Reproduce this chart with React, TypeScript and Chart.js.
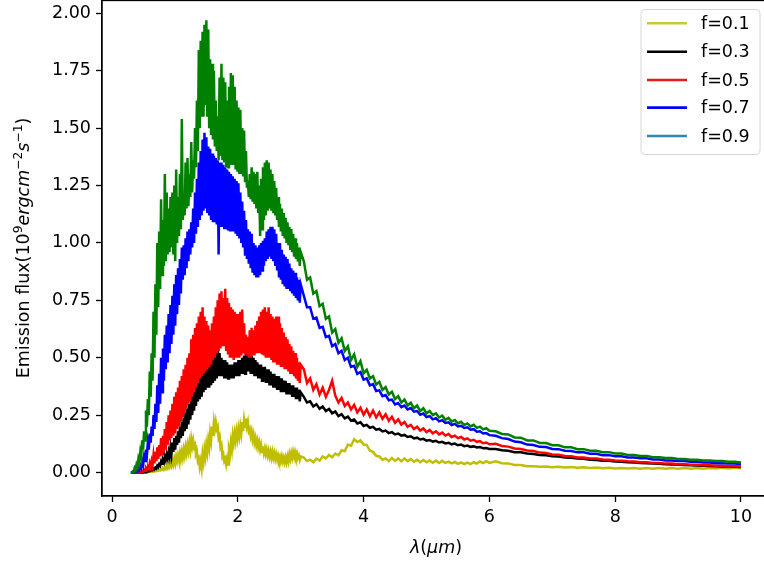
import React, { useEffect, useRef } from "react";
import { Chart, registerables } from "chart.js";

Chart.register(...registerables);

// Wavelength grid (µm)
const lambda = [
  0.300, 0.315, 0.330, 0.345, 0.360, 0.375, 0.390, 0.405, 0.420, 0.435,
  0.450, 0.465, 0.480, 0.495, 0.510, 0.525, 0.540, 0.555, 0.570, 0.585,
  0.600, 0.615, 0.630, 0.645, 0.660, 0.675, 0.690, 0.705, 0.720, 0.735,
  0.750, 0.765, 0.780, 0.795, 0.810, 0.825, 0.840, 0.855, 0.870, 0.885,
  0.900, 0.915, 0.930, 0.945, 0.960, 0.975, 0.990, 1.005, 1.020, 1.035,
  1.050, 1.065, 1.080, 1.095, 1.110, 1.125, 1.140, 1.155, 1.170, 1.185,
  1.200, 1.215, 1.230, 1.245, 1.260, 1.275, 1.290, 1.305, 1.320, 1.335,
  1.350, 1.365, 1.380, 1.395, 1.410, 1.425, 1.440, 1.455, 1.470, 1.485,
  1.500, 1.515, 1.530, 1.545, 1.560, 1.575, 1.590, 1.605, 1.620, 1.635,
  1.650, 1.665, 1.680, 1.695, 1.710, 1.725, 1.740, 1.755, 1.770, 1.785,
  1.800, 1.815, 1.830, 1.845, 1.860, 1.875, 1.890, 1.905, 1.920, 1.935,
  1.950, 1.965, 1.980, 1.995, 2.010, 2.025, 2.040, 2.055, 2.070, 2.085,
  2.100, 2.115, 2.130, 2.145, 2.160, 2.175, 2.190, 2.205, 2.220, 2.235,
  2.250, 2.265, 2.280, 2.295, 2.310, 2.325, 2.340, 2.355, 2.370, 2.385,
  2.400, 2.415, 2.430, 2.445, 2.460, 2.475, 2.490, 2.505, 2.520, 2.535,
  2.550, 2.565, 2.580, 2.595, 2.610, 2.625, 2.640, 2.655, 2.670, 2.685,
  2.700, 2.715, 2.730, 2.745, 2.760, 2.775, 2.790, 2.805, 2.820, 2.835,
  2.850, 2.865, 2.880, 2.895, 2.910, 2.925, 2.940, 2.955, 2.970, 2.985,
  3.000,
  3.05, 3.10, 3.15, 3.20, 3.25, 3.30, 3.35, 3.40, 3.45, 3.50,
  3.55, 3.60, 3.65, 3.70, 3.75, 3.80, 3.85, 3.90, 3.95, 4.00,
  4.05, 4.10, 4.15, 4.20, 4.25, 4.30, 4.35, 4.40, 4.45, 4.50,
  4.55, 4.60, 4.65, 4.70, 4.75, 4.80, 4.85, 4.90, 4.95, 5.00,
  5.05, 5.10, 5.15, 5.20, 5.25, 5.30, 5.35, 5.40, 5.45, 5.50,
  5.55, 5.60, 5.65, 5.70, 5.75, 5.80, 5.85, 5.90, 5.95, 6.00,
  6.1, 6.2, 6.3, 6.4, 6.5, 6.6, 6.7, 6.8, 6.9, 7.0,
  7.1, 7.2, 7.3, 7.4, 7.5, 7.6, 7.7, 7.8, 7.9, 8.0,
  8.1, 8.2, 8.3, 8.4, 8.5, 8.6, 8.7, 8.8, 8.9, 9.0,
  9.1, 9.2, 9.3, 9.4, 9.5, 9.6, 9.7, 9.8, 9.9, 10.0,
];

// Emission flux (1e9 erg cm^-2 s^-1)
const fluxF01 = [
  0, 0, 0, 0, 0, 0, 0, 0, 0, 0,
  0, 0, 0, 0, 0, 0, 0.002, 0.001, 0.003, 0.002,
  0.004, 0.003, 0.005, 0.004, 0.006, 0.005, 0.008, 0.006, 0.01, 0.008,
  0.012, 0.009, 0.015, 0.011, 0.018, 0.013, 0.022, 0.016, 0.028, 0.02,
  0.035, 0.025, 0.04, 0.028, 0.05, 0.035, 0.06, 0.04, 0.07, 0.05,
  0.075, 0.055, 0.085, 0.06, 0.09, 0.065, 0.10, 0.075, 0.11, 0.085,
  0.12, 0.095, 0.13, 0.10, 0.145, 0.115, 0.14, 0.11, 0.12, 0.08,
  0.09, 0.05, 0.06, 0.025, 0.05, 0.02, 0.08, 0.05, 0.10, 0.07,
  0.12, 0.09, 0.14, 0.11, 0.17, 0.14, 0.20, 0.16, 0.22, 0.19,
  0.22, 0.19, 0.20, 0.15, 0.16, 0.11, 0.12, 0.07, 0.08, 0.05,
  0.06, 0.035, 0.06, 0.035, 0.10, 0.08, 0.13, 0.10, 0.16, 0.13,
  0.17, 0.14, 0.18, 0.15, 0.19, 0.16, 0.20, 0.17, 0.22, 0.18,
  0.23, 0.20, 0.235, 0.20, 0.22, 0.18, 0.19, 0.16, 0.18, 0.145,
  0.165, 0.13, 0.15, 0.12, 0.14, 0.11, 0.13, 0.10, 0.12, 0.09,
  0.115, 0.085, 0.105, 0.08, 0.10, 0.075, 0.095, 0.07, 0.09, 0.065,
  0.09, 0.065, 0.085, 0.06, 0.08, 0.058, 0.075, 0.055, 0.07, 0.05,
  0.07, 0.048, 0.065, 0.045, 0.065, 0.045, 0.07, 0.05, 0.08, 0.06,
  0.085, 0.065, 0.09, 0.07, 0.09, 0.07, 0.085, 0.065, 0.075, 0.055,
  0.07,
  0.065, 0.05, 0.056, 0.045, 0.061, 0.052, 0.07, 0.062, 0.077, 0.067,
  0.083, 0.075, 0.097, 0.093, 0.122, 0.117, 0.145, 0.133, 0.14, 0.122,
  0.12, 0.095, 0.09, 0.073, 0.07, 0.056, 0.062, 0.05, 0.064, 0.051,
  0.062, 0.049, 0.062, 0.05, 0.059, 0.047, 0.056, 0.045, 0.055, 0.045,
  0.053, 0.043, 0.052, 0.042, 0.051, 0.042, 0.048, 0.04, 0.046, 0.038,
  0.044, 0.037, 0.043, 0.037, 0.045, 0.039, 0.048, 0.041, 0.05, 0.042,
  0.049, 0.041, 0.04, 0.033, 0.033, 0.028, 0.028, 0.025, 0.026, 0.023,
  0.025, 0.022, 0.024, 0.021, 0.023, 0.02, 0.022, 0.019, 0.021, 0.018,
  0.02, 0.018, 0.02, 0.017, 0.02, 0.017, 0.02, 0.017, 0.02, 0.017,
  0.02, 0.017, 0.02, 0.017, 0.02, 0.018, 0.021, 0.018, 0.021, 0.019,
];

const fluxF03 = [
  0, 0, 0, 0, 0, 0, 0, 0, 0, 0,
  0, 0, 0, 0, 0.002, 0.001, 0.004, 0.003, 0.007, 0.005,
  0.01, 0.008, 0.014, 0.011, 0.018, 0.014, 0.022, 0.018, 0.03, 0.024,
  0.036, 0.03, 0.048, 0.038, 0.055, 0.045, 0.07, 0.055, 0.078, 0.062,
  0.09, 0.07, 0.11, 0.08, 0.13, 0.09, 0.15, 0.10, 0.16, 0.12,
  0.18, 0.13, 0.20, 0.15, 0.22, 0.16, 0.24, 0.18, 0.26, 0.19,
  0.28, 0.21, 0.30, 0.23, 0.33, 0.25, 0.35, 0.27, 0.37, 0.29,
  0.39, 0.31, 0.41, 0.32, 0.43, 0.33, 0.45, 0.35, 0.46, 0.36,
  0.47, 0.37, 0.48, 0.37, 0.49, 0.38, 0.50, 0.39, 0.53, 0.40,
  0.56, 0.41, 0.58, 0.42, 0.52, 0.42, 0.50, 0.42, 0.49, 0.41,
  0.49, 0.41, 0.48, 0.41, 0.47, 0.41, 0.47, 0.41, 0.47, 0.41,
  0.48, 0.42, 0.48, 0.42, 0.49, 0.42, 0.49, 0.43, 0.50, 0.43,
  0.51, 0.43, 0.52, 0.44, 0.53, 0.44, 0.52, 0.43, 0.51, 0.43,
  0.50, 0.42, 0.49, 0.42, 0.48, 0.41, 0.47, 0.41, 0.47, 0.40,
  0.46, 0.40, 0.46, 0.39, 0.45, 0.39, 0.45, 0.38, 0.44, 0.38,
  0.43, 0.37, 0.43, 0.37, 0.42, 0.36, 0.42, 0.36, 0.41, 0.35,
  0.41, 0.35, 0.40, 0.35, 0.40, 0.34, 0.39, 0.34, 0.39, 0.34,
  0.38, 0.33, 0.38, 0.33, 0.37, 0.32, 0.37, 0.32, 0.36, 0.31,
  0.35,
  0.33, 0.305, 0.31, 0.288, 0.298, 0.278, 0.288, 0.268, 0.277, 0.258,
  0.266, 0.246, 0.254, 0.236, 0.244, 0.226, 0.231, 0.214, 0.219, 0.203,
  0.208, 0.195, 0.199, 0.187, 0.19, 0.179, 0.183, 0.172, 0.176, 0.166,
  0.17, 0.161, 0.164, 0.155, 0.158, 0.149, 0.152, 0.144, 0.147, 0.139,
  0.142, 0.135, 0.138, 0.131, 0.134, 0.127, 0.13, 0.123, 0.126, 0.119,
  0.122, 0.115, 0.118, 0.112, 0.114, 0.109, 0.111, 0.106, 0.107, 0.103,
  0.103, 0.097, 0.095, 0.089, 0.088, 0.083, 0.081, 0.077, 0.075, 0.071,
  0.07, 0.066, 0.065, 0.061, 0.06, 0.056, 0.055, 0.052, 0.051, 0.048,
  0.047, 0.045, 0.044, 0.042, 0.041, 0.039, 0.038, 0.036, 0.035, 0.034,
  0.033, 0.032, 0.031, 0.03, 0.029, 0.028, 0.027, 0.026, 0.025, 0.024,
];

const fluxF05 = [
  0, 0, 0, 0, 0, 0, 0, 0, 0.001, 0,
  0.003, 0.002, 0.008, 0.005, 0.012, 0.008, 0.02, 0.013, 0.026, 0.018,
  0.04, 0.025, 0.05, 0.032, 0.075, 0.04, 0.09, 0.05, 0.11, 0.06,
  0.12, 0.07, 0.15, 0.08, 0.16, 0.09, 0.19, 0.10, 0.22, 0.12,
  0.25, 0.14, 0.27, 0.15, 0.30, 0.16, 0.33, 0.17, 0.35, 0.19,
  0.37, 0.20, 0.40, 0.22, 0.42, 0.24, 0.45, 0.26, 0.47, 0.28,
  0.50, 0.30, 0.52, 0.31, 0.58, 0.33, 0.60, 0.35, 0.63, 0.37,
  0.65, 0.39, 0.68, 0.41, 0.70, 0.42, 0.72, 0.43, 0.68, 0.44,
  0.66, 0.45, 0.64, 0.46, 0.62, 0.47, 0.65, 0.49, 0.68, 0.50,
  0.72, 0.52, 0.75, 0.53, 0.78, 0.54, 0.79, 0.55, 0.76, 0.55,
  0.80, 0.53, 0.76, 0.52, 0.74, 0.50, 0.72, 0.50, 0.71, 0.49,
  0.70, 0.50, 0.69, 0.50, 0.69, 0.50, 0.70, 0.51, 0.71, 0.52,
  0.65, 0.52, 0.60, 0.51, 0.59, 0.50, 0.62, 0.50, 0.63, 0.51,
  0.62, 0.51, 0.64, 0.52, 0.66, 0.52, 0.68, 0.52, 0.70, 0.52,
  0.71, 0.51, 0.72, 0.50, 0.70, 0.50, 0.72, 0.50, 0.69, 0.49,
  0.68, 0.48, 0.67, 0.48, 0.68, 0.47, 0.68, 0.47, 0.65, 0.46,
  0.63, 0.46, 0.61, 0.45, 0.59, 0.45, 0.58, 0.44, 0.56, 0.43,
  0.55, 0.43, 0.53, 0.42, 0.52, 0.41, 0.50, 0.40, 0.48, 0.39,
  0.47,
  0.45, 0.39, 0.41, 0.36, 0.385, 0.34, 0.37, 0.33, 0.36, 0.40,
  0.335, 0.305, 0.325, 0.29, 0.305, 0.275, 0.295, 0.262, 0.282, 0.252,
  0.275, 0.245, 0.27, 0.24, 0.262, 0.234, 0.254, 0.226, 0.243, 0.217,
  0.232, 0.209, 0.22, 0.199, 0.208, 0.19, 0.2, 0.183, 0.192, 0.176,
  0.186, 0.171, 0.18, 0.166, 0.174, 0.161, 0.168, 0.155, 0.161, 0.15,
  0.155, 0.144, 0.149, 0.139, 0.143, 0.134, 0.137, 0.128, 0.131, 0.123,
  0.125, 0.116, 0.113, 0.105, 0.103, 0.096, 0.094, 0.087, 0.085, 0.079,
  0.078, 0.072, 0.071, 0.066, 0.066, 0.061, 0.061, 0.057, 0.056, 0.053,
  0.052, 0.049, 0.048, 0.045, 0.045, 0.042, 0.042, 0.039, 0.039, 0.036,
  0.036, 0.034, 0.034, 0.032, 0.032, 0.03, 0.03, 0.028, 0.028, 0.027,
];

const fluxF07 = [
  0, 0, 0, 0, 0.002, 0.001, 0.008, 0.005, 0.018, 0.012,
  0.03, 0.02, 0.05, 0.035, 0.07, 0.05, 0.10, 0.075, 0.13, 0.10,
  0.17, 0.13, 0.20, 0.16, 0.25, 0.19, 0.30, 0.22, 0.38, 0.26,
  0.43, 0.30, 0.50, 0.35, 0.54, 0.40, 0.60, 0.45, 0.64, 0.48,
  0.69, 0.52, 0.73, 0.56, 0.77, 0.60, 0.82, 0.64, 0.86, 0.69,
  0.89, 0.73, 0.93, 0.78, 0.98, 0.84, 0.99, 0.86, 1.02, 0.89,
  1.05, 0.92, 1.06, 0.95, 1.09, 0.98, 1.15, 1.00, 1.22, 1.04,
  1.28, 1.07, 1.35, 1.10, 1.40, 1.12, 1.45, 1.14, 1.48, 1.15,
  1.46, 1.13, 1.42, 1.12, 1.41, 1.10, 1.39, 1.09, 1.38, 1.09,
  1.37, 1.08, 1.36, 0.95, 1.35, 1.07, 1.35, 1.07, 1.34, 1.06,
  1.33, 1.06, 1.32, 1.06, 1.31, 1.05, 1.30, 1.05, 1.29, 1.05,
  1.28, 1.04, 1.27, 1.03, 1.26, 1.02, 1.22, 1.00, 1.18, 0.98,
  1.14, 0.95, 1.10, 0.93, 1.06, 0.91, 1.05, 0.89, 1.04, 0.87,
  1.00, 0.86, 0.99, 0.85, 0.98, 0.85, 0.99, 0.86, 1.00, 0.88,
  1.01, 0.90, 1.02, 0.92, 1.05, 0.93, 1.06, 0.94, 1.07, 0.93,
  1.07, 0.92, 1.06, 0.90, 1.04, 0.88, 1.00, 0.85, 1.00, 0.84,
  0.97, 0.82, 0.95, 0.81, 0.94, 0.80, 0.93, 0.80, 0.91, 0.79,
  0.89, 0.78, 0.88, 0.77, 0.87, 0.76, 0.85, 0.75, 0.84, 0.74,
  0.82,
  0.77, 0.72, 0.72, 0.67, 0.675, 0.63, 0.635, 0.59, 0.595, 0.55,
  0.56, 0.52, 0.53, 0.49, 0.50, 0.46, 0.465, 0.43, 0.438, 0.405,
  0.41, 0.38, 0.385, 0.355, 0.358, 0.333, 0.338, 0.315, 0.318, 0.297,
  0.303, 0.285, 0.292, 0.275, 0.281, 0.265, 0.268, 0.252, 0.257, 0.242,
  0.246, 0.232, 0.237, 0.223, 0.228, 0.216, 0.219, 0.207, 0.212, 0.201,
  0.204, 0.194, 0.197, 0.187, 0.189, 0.178, 0.18, 0.17, 0.172, 0.163,
  0.16, 0.15, 0.146, 0.135, 0.132, 0.122, 0.12, 0.112, 0.111, 0.103,
  0.102, 0.095, 0.094, 0.088, 0.088, 0.082, 0.082, 0.076, 0.076, 0.071,
  0.071, 0.066, 0.066, 0.062, 0.062, 0.057, 0.057, 0.053, 0.053, 0.05,
  0.05, 0.047, 0.047, 0.044, 0.044, 0.041, 0.041, 0.039, 0.039, 0.037,
];

const fluxF09 = [
  0, 0, 0.005, 0.003, 0.02, 0.012, 0.035, 0.025, 0.06, 0.045,
  0.09, 0.07, 0.14, 0.10, 0.18, 0.14, 0.27, 0.20, 0.32, 0.25,
  0.44, 0.33, 0.52, 0.40, 0.70, 0.50, 0.82, 0.60, 1.00, 0.72,
  1.05, 0.80, 1.19, 0.86, 1.10, 0.90, 1.30, 0.92, 1.22, 0.95,
  1.15, 0.96, 1.20, 0.98, 1.22, 0.95, 1.25, 0.92, 1.32, 1.00,
  1.20, 1.03, 1.30, 1.06, 1.54, 1.10, 1.20, 1.12, 1.35, 1.15,
  1.37, 1.16, 1.30, 1.20, 1.44, 1.22, 1.36, 1.28, 1.50, 1.33,
  1.62, 1.40, 1.84, 1.50, 1.88, 1.55, 1.92, 1.55, 1.95, 1.60,
  1.97, 1.55, 1.93, 1.50, 1.80, 1.47, 1.78, 1.45, 1.75, 1.42,
  1.62, 1.40, 1.55, 1.36, 1.72, 1.38, 1.78, 1.36, 1.72, 1.35,
  1.70, 1.33, 1.62, 1.33, 1.68, 1.34, 1.74, 1.34, 1.73, 1.34,
  1.68, 1.32, 1.62, 1.31, 1.59, 1.30, 1.58, 1.30, 1.50, 1.29,
  1.49, 1.27, 1.40, 1.24, 1.27, 1.20, 1.30, 1.19, 1.33, 1.18,
  1.31, 1.17, 1.30, 1.15, 1.31, 1.13, 1.25, 1.03, 1.28, 1.06,
  1.33, 1.10, 1.35, 1.12, 1.36, 1.14, 1.35, 1.15, 1.32, 1.14,
  1.30, 1.13, 1.27, 1.12, 1.24, 1.10, 1.20, 1.07, 1.17, 1.05,
  1.15, 1.03, 1.13, 1.02, 1.11, 1.00, 1.09, 0.99, 1.07, 0.97,
  1.06, 0.96, 1.04, 0.94, 1.02, 0.93, 1.00, 0.92, 0.98, 0.90,
  0.96,
  0.92, 0.84, 0.85, 0.78, 0.79, 0.725, 0.735, 0.67, 0.68, 0.61,
  0.625, 0.565, 0.585, 0.53, 0.55, 0.49, 0.515, 0.46, 0.485, 0.432,
  0.447, 0.41, 0.42, 0.383, 0.395, 0.36, 0.372, 0.34, 0.352, 0.32,
  0.333, 0.305, 0.318, 0.292, 0.304, 0.28, 0.292, 0.268, 0.28, 0.258,
  0.268, 0.25, 0.258, 0.24, 0.248, 0.23, 0.238, 0.222, 0.229, 0.214,
  0.221, 0.207, 0.214, 0.201, 0.208, 0.195, 0.2, 0.188, 0.193, 0.182,
  0.18, 0.168, 0.166, 0.153, 0.152, 0.14, 0.14, 0.129, 0.129, 0.119,
  0.119, 0.11, 0.11, 0.102, 0.102, 0.095, 0.095, 0.089, 0.089, 0.083,
  0.083, 0.077, 0.077, 0.072, 0.072, 0.067, 0.067, 0.063, 0.063, 0.059,
  0.059, 0.056, 0.056, 0.053, 0.053, 0.05, 0.05, 0.047, 0.047, 0.044,
];

const seriesLabels = ["f=0.1", "f=0.3", "f=0.5", "f=0.7", "f=0.9"];
const seriesValues = [fluxF01, fluxF03, fluxF05, fluxF07, fluxF09];
const lineColors = ["#bfbf00", "#000000", "#ff0000", "#0000ff", "#008000"];
const legendColors = ["#c8c832", "#000000", "#e31a1c", "#0000ff", "#2f86b5"];
const xTicks = [0, 2, 4, 6, 8, 10];
const yTicks = [0, 0.25, 0.5, 0.75, 1.0, 1.25, 1.5, 1.75, 2.0];

const FONT = '"DejaVu Sans", "Noto Sans", sans-serif';
const FS = 17.5;

type Seg = { t: string; it?: boolean; sup?: boolean };

function drawRich(ctx: CanvasRenderingContext2D, segs: Seg[], cx: number, cy: number, rot: number, size: number) {
  ctx.save();
  ctx.translate(cx, cy);
  ctx.rotate(rot);
  const fontFor = (s: Seg) => `${s.it ? "italic " : ""}${s.sup ? size * 0.7 : size}px ${FONT}`;
  let total = 0;
  const widths = segs.map((s) => {
    ctx.font = fontFor(s);
    const w = ctx.measureText(s.t).width;
    total += w;
    return w;
  });
  let x = -total / 2;
  ctx.textBaseline = "alphabetic";
  ctx.textAlign = "left";
  ctx.fillStyle = "#000";
  segs.forEach((s, i) => {
    ctx.font = fontFor(s);
    ctx.fillText(s.t, x, s.sup ? -size * 0.42 : 0);
    x += widths[i];
  });
  ctx.restore();
}

const decorPlugin = {
  id: "decor",
  afterDraw(chart: any) {
    const ctx: CanvasRenderingContext2D = chart.ctx;
    const a = chart.chartArea;
    ctx.save();
    ctx.strokeStyle = "#000";
    ctx.lineWidth = 1.3;
    ctx.strokeRect(a.left, a.top + 0.5, a.right - a.left, a.bottom - a.top - 0.5);
    ctx.restore();

    // legend
    const bx = 641, by = 9.5, bw = 119, bh = 145, r = 4;
    ctx.save();
    ctx.beginPath();
    ctx.moveTo(bx + r, by);
    ctx.lineTo(bx + bw - r, by);
    ctx.quadraticCurveTo(bx + bw, by, bx + bw, by + r);
    ctx.lineTo(bx + bw, by + bh - r);
    ctx.quadraticCurveTo(bx + bw, by + bh, bx + bw - r, by + bh);
    ctx.lineTo(bx + r, by + bh);
    ctx.quadraticCurveTo(bx, by + bh, bx, by + bh - r);
    ctx.lineTo(bx, by + r);
    ctx.quadraticCurveTo(bx, by, bx + r, by);
    ctx.closePath();
    ctx.fillStyle = "rgba(255,255,255,0.8)";
    ctx.fill();
    ctx.strokeStyle = "#d6d6d6";
    ctx.lineWidth = 1;
    ctx.stroke();
    const rows = [23.3, 51.7, 80, 107.6, 136];
    chart.data.datasets.forEach((ds: any, i: number) => {
      const y = rows[i];
      ctx.strokeStyle = ds.legendColor;
      ctx.lineWidth = 2.6;
      ctx.beginPath();
      ctx.moveTo(647, y);
      ctx.lineTo(687, y);
      ctx.stroke();
      ctx.fillStyle = "#000";
      ctx.font = `${FS}px ${FONT}`;
      ctx.textBaseline = "middle";
      ctx.textAlign = "left";
      ctx.fillText(ds.label, 701, y + 1);
    });
    ctx.restore();

    drawRich(
      ctx,
      [
        { t: "Emission flux(" },
        { t: "10" },
        { t: "9", sup: true },
        { t: "ergcm", it: true },
        { t: "\u22122", sup: true },
        { t: "s", it: true },
        { t: "\u22121", sup: true },
        { t: ")" },
      ],
      29,
      (a.top + a.bottom) / 2,
      -Math.PI / 2,
      FS
    );
    drawRich(
      ctx,
      [{ t: "\u03bb", it: true }, { t: "(" }, { t: "\u03bcm", it: true }, { t: ")" }],
      436,
      553,
      0,
      FS
    );
  },
};

export default function App() {
  const ref = useRef<HTMLCanvasElement | null>(null);

  useEffect(() => {
    if (!ref.current) return;
    const datasets = seriesLabels.map((label, i) => ({
      label,
      legendColor: legendColors[i],
      data: lambda
        .map((x, j) => ({ x, y: seriesValues[i][j] }))
        .filter((p) => typeof p.y === "number"),
      borderColor: lineColors[i],
      backgroundColor: lineColors[i],
      borderWidth: 2.5,
      pointRadius: 0,
      tension: 0,
      fill: false,
      order: 10 - i,
    }));

    const tickFont = { family: FONT, size: FS };
    const gridOpts = {
      display: true,
      drawOnChartArea: false,
      drawTicks: true,
      tickLength: 6,
      tickWidth: 1.3,
      tickColor: "#000",
    };
    const chart = new Chart(ref.current, {
      type: "line",
      data: { datasets: datasets as any },
      options: {
        responsive: false,
        animation: false,
        devicePixelRatio: 1,
        layout: { padding: { left: 0, top: 0, right: 29, bottom: 0 } },
        plugins: {
          legend: { display: false },
          tooltip: { enabled: false },
          title: { display: false },
        },
        scales: {
          x: {
            type: "linear",
            min: -0.159,
            max: 10.477,
            afterBuildTicks: (axis: any) => {
              axis.ticks = xTicks.map((v) => ({ value: v }));
            },
            afterFit: (s: any) => {
              s.height = 67;
              s.paddingLeft = 0;
              s.paddingRight = 0;
            },
            grid: gridOpts,
            border: { display: true, color: "#000", width: 1.3 },
            ticks: {
              autoSkip: false,
              maxRotation: 0,
              padding: 5,
              color: "#000",
              font: tickFont,
              callback: (v: any) => String(v),
            },
          },
          y: {
            type: "linear",
            min: -0.102,
            max: 2.058,
            afterBuildTicks: (axis: any) => {
              axis.ticks = yTicks.map((v) => ({ value: v }));
            },
            afterFit: (s: any) => {
              s.width = 102;
              s.paddingTop = 0;
              s.paddingBottom = 0;
            },
            grid: gridOpts,
            border: { display: true, color: "#000", width: 1.3 },
            ticks: {
              autoSkip: false,
              padding: 5,
              color: "#000",
              font: tickFont,
              callback: (v: any) => Number(v).toFixed(2),
            },
          },
        },
      },
      plugins: [decorPlugin],
    });
    return () => chart.destroy();
  }, []);

  return (
    <div
      style={{
        position: "fixed",
        left: 0,
        top: 0,
        width: 764,
        height: 563,
        overflow: "hidden",
        background: "#fff",
      }}
    >
      <canvas ref={ref} width={800} height={563} style={{ width: 800, height: 563, display: "block" }} />
    </div>
  );
}
